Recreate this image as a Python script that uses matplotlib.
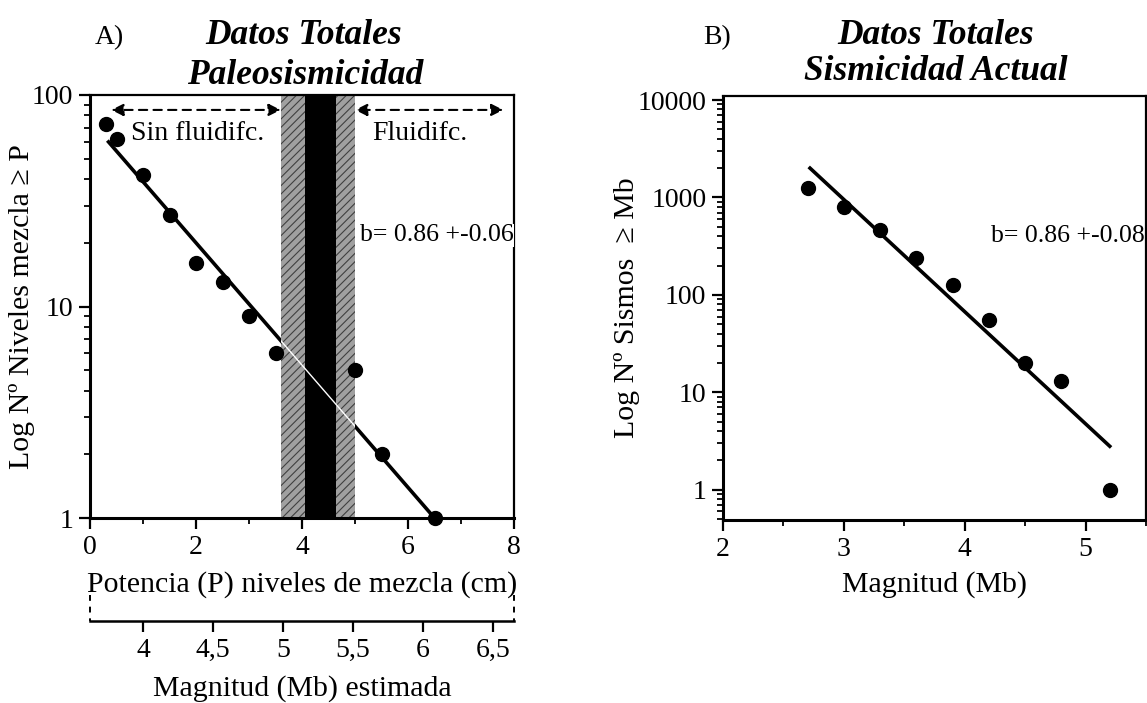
import matplotlib
matplotlib.use("Agg")
import matplotlib.pyplot as plt
from matplotlib.ticker import (FixedLocator, LogLocator, MultipleLocator,
                               NullFormatter, FuncFormatter)
import numpy as np

plt.rcParams["font.family"] = ["Liberation Serif", "DejaVu Serif"]
plt.rcParams["hatch.linewidth"] = 0.8

# --- A) paleoseismicity: thickness of mixed layers vs cumulative count
pot_cm = [0.3, 0.5, 1.0, 1.5, 2.0, 2.5, 3.0, 3.5, 5.0, 5.5, 6.5]
niveles = [73, 62, 42, 27, 16, 13, 9, 6, 5, 2, 1]
fit_a_x = [0.35, 6.5]
fit_a_y = [60, 1]
banda_gris = (3.6, 5.0)
banda_negra = (4.05, 4.65)
flecha_y = 85
mag_ticks = [4, 4.5, 5, 5.5, 6, 6.5]

# --- B) present seismicity: magnitude vs cumulative count
mag_mb = [2.7, 3.0, 3.3, 3.6, 3.9, 4.2, 4.5, 4.8, 5.2]
sismos = [1250, 800, 460, 240, 125, 55, 20, 13, 1]
fit_b_x = [2.72, 5.2]
fit_b_y = [2000, 2.8]


def p_to_mb(p):
    return 4 + (np.asarray(p, dtype=float) - 1.0) / 2.64


def mb_to_p(m):
    return 1.0 + (np.asarray(m, dtype=float) - 4) * 2.64


W, H = 1147, 703
FS = 20      # tick labels, panel letters
FL = 21.5    # axis labels
FB = 18.5    # b-value annotations


def fx(px):
    return px / W


def fy(py):
    return 1 - py / H


fig = plt.figure(figsize=(W / 100, H / 100), dpi=100)
axA = fig.add_axes([fx(90), fy(518), 424 / W, 423 / H])
axB = fig.add_axes([fx(723), fy(520), 423 / W, 424 / H])


def style_axes(ax):
    for side in ("left", "bottom"):
        ax.spines[side].set_linewidth(2.2)
    for side in ("top", "right"):
        ax.spines[side].set_linewidth(1.6)
    ax.tick_params(which="major", direction="out", length=8, width=1.6,
                   labelsize=FS, pad=4)
    ax.tick_params(which="minor", direction="out", length=4, width=1.3)
    ax.yaxis.set_minor_locator(LogLocator(subs=np.arange(2, 10)))
    ax.yaxis.set_minor_formatter(NullFormatter())
    ax.yaxis.set_major_formatter(FuncFormatter(lambda v, p: f"{v:g}"))


# ---------------- panel A ----------------
axA.set_yscale("log")
axA.set_xlim(0, 8)
axA.set_ylim(1, 100)

axA.plot(fit_a_x, fit_a_y, color="black", lw=2.6, zorder=1.2)
band = axA.axvspan(*banda_gris, facecolor="#a0a0a0", edgecolor="#404040",
                   hatch="////", lw=0, zorder=1.5)
axA.axvspan(*banda_negra, facecolor="black", lw=0, zorder=1.6)
# the fit line shows only as a thin light trace across the shaded band
wl, = axA.plot(fit_a_x, fit_a_y, color="white", lw=1.0, zorder=1.7)
wl.set_clip_path(band)
axA.plot(pot_cm, niveles, "o", ms=10, color="black", clip_on=False, zorder=3)

for x0, x1 in [(0.4, banda_gris[0]), (banda_gris[1], 7.8)]:
    axA.annotate("", xy=(x0, flecha_y), xytext=(x1, flecha_y),
                 arrowprops=dict(arrowstyle="<|-|>", linestyle=(0, (4, 3)),
                                 lw=1.5, color="black", mutation_scale=18,
                                 shrinkA=0, shrinkB=0), zorder=2)

axA.text(0.78, 61, "Sin fluidifc.", fontsize=FS, va="baseline", ha="left", zorder=4)
axA.text(5.32, 61, "Fluidifc.", fontsize=FS, va="baseline", ha="left", zorder=4)
axA.text(5.09, 20.3, "b= 0.86 +-0.06", fontsize=FB, va="baseline", ha="left",
         zorder=4, bbox=dict(facecolor="white", edgecolor="none", pad=0.5))

style_axes(axA)
axA.xaxis.set_major_locator(MultipleLocator(2))
axA.xaxis.set_minor_locator(MultipleLocator(1))
axA.yaxis.set_major_locator(FixedLocator([1, 10, 100]))

axA.text(0.5, -0.158, "Potencia (P) niveles de mezcla (cm)", fontsize=FL,
         ha="center", va="center", transform=axA.transAxes)
axA.text(-0.16, 0.5, "Log Nº Niveles mezcla ≥ P", fontsize=FL, rotation=90,
         ha="center", va="center", transform=axA.transAxes)

# estimated magnitude scale hung below the thickness axis
secA = axA.secondary_xaxis(-0.2435, functions=(p_to_mb, mb_to_p))
secA.set_xticks(mag_ticks)
secA.xaxis.set_major_formatter(FuncFormatter(lambda v, p: f"{v:g}".replace(".", ",")))
secA.tick_params(direction="out", length=8, width=1.6, labelsize=FS, pad=4)
secA.spines["bottom"].set_linewidth(1.8)
for xa in (0, 1):
    axA.plot([xa, xa], [-0.182, -0.2435], transform=axA.transAxes, color="black",
             lw=1.4, ls=(0, (3, 3)), clip_on=False)
axA.text(0.5, -0.402, "Magnitud (Mb) estimada", fontsize=FL, ha="center",
         va="center", transform=axA.transAxes)

# ---------------- panel B ----------------
axB.set_yscale("log")
axB.set_xlim(2, 5.5)
axB.set_ylim(0.49, 11000)
axB.plot(fit_b_x, fit_b_y, color="black", lw=2.6, zorder=2)
axB.plot(mag_mb, sismos, "o", ms=10, color="black", clip_on=False, zorder=3)
axB.text(4.22, 347, "b= 0.86 +-0.08", fontsize=FB, va="baseline", ha="left")

style_axes(axB)
axB.xaxis.set_major_locator(MultipleLocator(1))
axB.xaxis.set_minor_locator(MultipleLocator(0.5))
axB.yaxis.set_major_locator(FixedLocator([1, 10, 100, 1000, 10000]))

axB.text(0.5, -0.153, "Magnitud (Mb)", fontsize=FL, ha="center", va="center",
         transform=axB.transAxes)
axB.text(-0.227, 0.5, "Log Nº Sismos  ≥ Mb", fontsize=FL, rotation=90,
         ha="center", va="center", transform=axB.transAxes)

# ---------------- titles ----------------
tfont = dict(fontsize=25.5, fontweight="bold", fontstyle="italic", ha="center",
             va="baseline")
fig.text(fx(95), fy(44), "A)", fontsize=FS, ha="left", va="baseline")
fig.text(fx(304), fy(44), "Datos Totales", **tfont)
fig.text(fx(305), fy(84), "Paleosismicidad", **tfont)
fig.text(fx(703), fy(44), "B)", fontsize=FS, ha="left", va="baseline")
fig.text(fx(936), fy(44), "Datos Totales", **tfont)
fig.text(fx(936), fy(80), "Sismicidad Actual", **tfont)

fig.savefig("out.png", dpi=100)
